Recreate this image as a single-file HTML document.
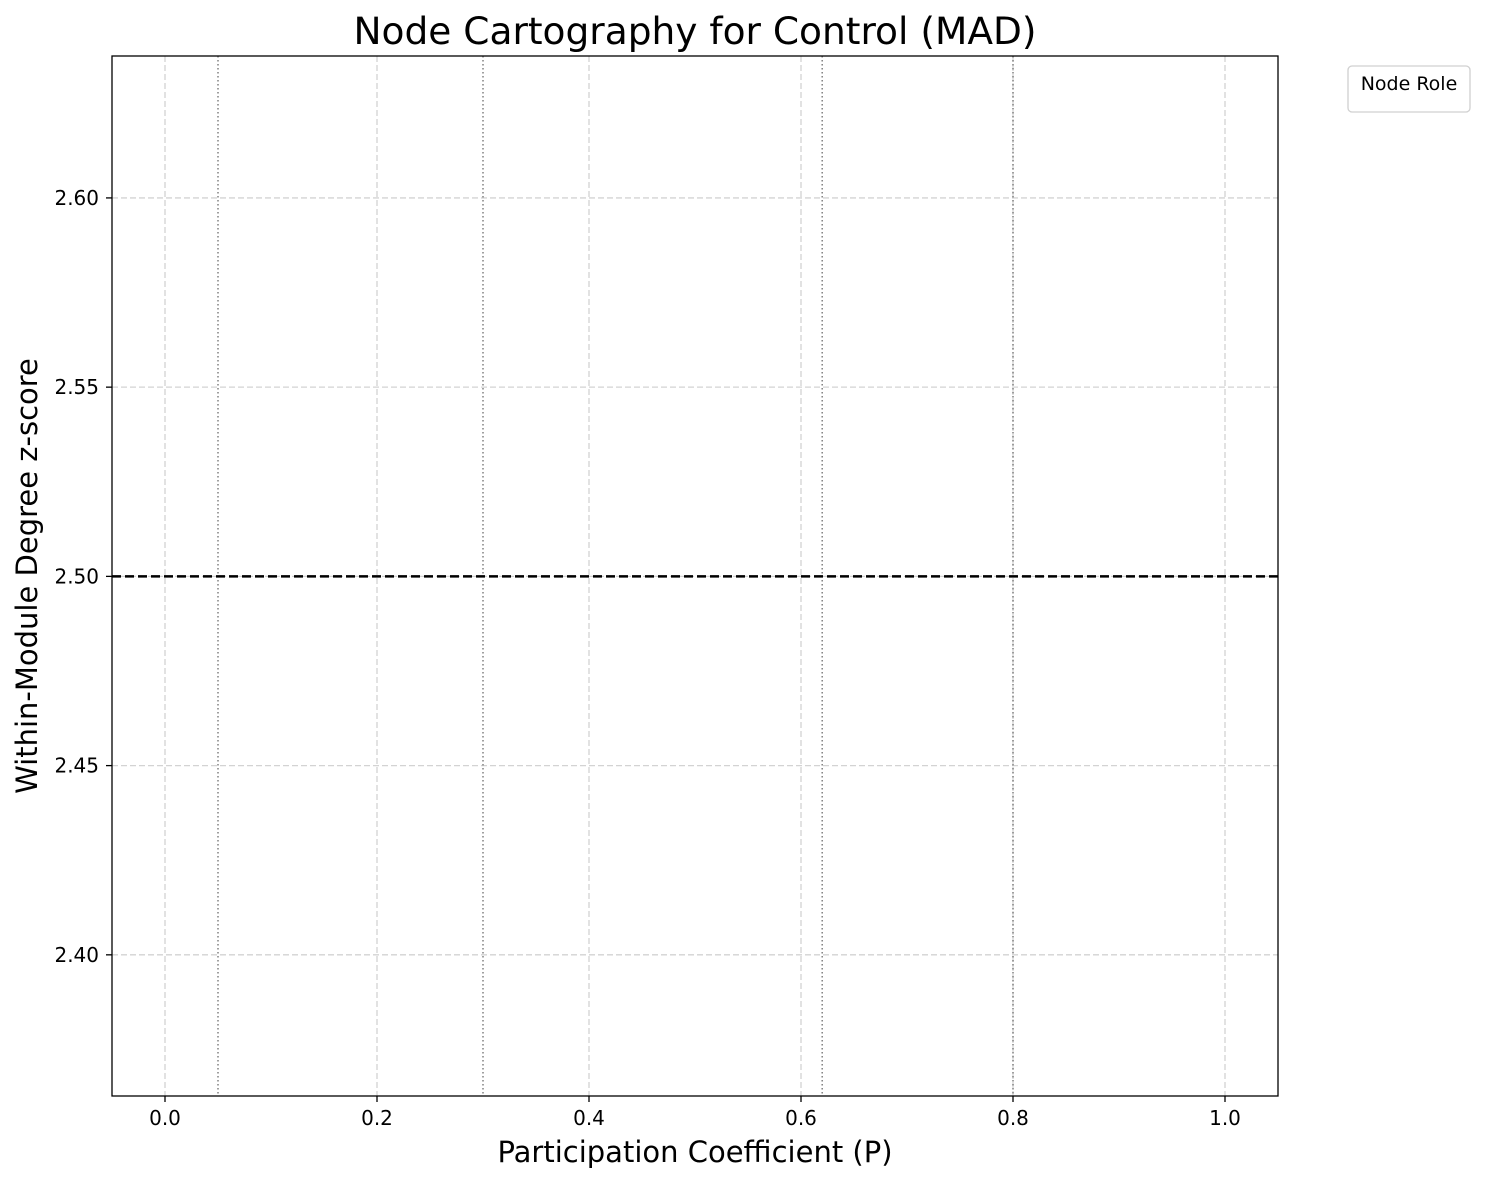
<!DOCTYPE html>
<html><head><meta charset="utf-8"><style>
html,body{margin:0;padding:0;background:#fff;}
svg{display:block;font-family:"DejaVu Sans","Liberation Sans",sans-serif;}
</style></head><body>
<svg id="chart" width="1485" height="1183" viewBox="0 0 1485 1183">
<text x="695" y="44" font-size="37.5" text-anchor="middle">Node Cartography for Control (MAD)</text>
<g id="grid"></g>
<g id="refs"></g>
<rect x="112" y="56" width="1166" height="1040" fill="none" stroke="#000" stroke-width="1.3"/>
<g id="xticks"></g>
<g id="yticks"></g>
<text x="695" y="1162" font-size="29" text-anchor="middle">Participation Coefficient (P)</text>
<text transform="translate(37,576) rotate(-90)" font-size="29" text-anchor="middle">Within-Module Degree z-score</text>
<g>
<rect x="1348" y="66" width="122" height="46" rx="4" fill="#fff" stroke="#d0d0d0" stroke-width="1.3"/>
<text x="1409" y="90" font-size="19" text-anchor="middle">Node Role</text>
</g>
</svg>
<script>
const xTicks=[0.0,0.2,0.4,0.6,0.8,1.0];
const yTicks=[2.40,2.45,2.50,2.55,2.60];
const pThresholds=[0.05,0.30,0.62,0.80];
const zThreshold=[2.5];
const xDomain=[-0.05,1.05], yDomain=[2.3627,2.6375];
const L=112,R=1278,T=56,B=1096;
const sx=v=>L+(v-xDomain[0])/(xDomain[1]-xDomain[0])*(R-L);
const sy=v=>B-(v-yDomain[0])/(yDomain[1]-yDomain[0])*(B-T);
const NS="http://www.w3.org/2000/svg";
function mk(tag,attrs,parent){const e=document.createElementNS(NS,tag);for(const k in attrs)e.setAttribute(k,attrs[k]);parent.appendChild(e);return e;}
const grid=document.getElementById('grid'),refs=document.getElementById('refs'),gx=document.getElementById('xticks'),gy=document.getElementById('yticks');
xTicks.forEach(v=>{const x=sx(v);
 const g=mk('line',{x1:x,x2:x,y1:T,y2:B,stroke:'#d3d3d3','stroke-width':1.3,'stroke-dasharray':'6,3'},grid);
 
 
 const t=mk('line',{x1:x,x2:x,y1:B,y2:B+6,stroke:'#000','stroke-width':1.3},gx);
 
 
 const l=mk('text',{x:x,y:B+29,'font-size':20,'text-anchor':'middle'},gx);l.textContent=v.toFixed(1);
 
 
});
yTicks.forEach(v=>{const y=sy(v);
 const g=mk('line',{x1:L,x2:R,y1:y,y2:y,stroke:'#d3d3d3','stroke-width':1.3,'stroke-dasharray':'6,3'},grid);
 
 
 const t=mk('line',{x1:L-6,x2:L,y1:y,y2:y,stroke:'#000','stroke-width':1.3},gy);
 
 
 const l=mk('text',{x:L-13,y:y+7,'font-size':20,'text-anchor':'end'},gy);l.textContent=v.toFixed(2);
 
 
});
pThresholds.forEach(v=>{const x=sx(v);
 const e=mk('line',{x1:x,x2:x,y1:T,y2:B,stroke:'#808080','stroke-width':1.5,'stroke-dasharray':'1.5,2.5'},refs);
 
 
});
zThreshold.forEach(v=>{const y=sy(v);
 const e=mk('line',{x1:L,x2:R,y1:y,y2:y,stroke:'#000','stroke-width':2.4,'stroke-dasharray':'9,4'},refs);
 
 
});
</script>
</body></html>
